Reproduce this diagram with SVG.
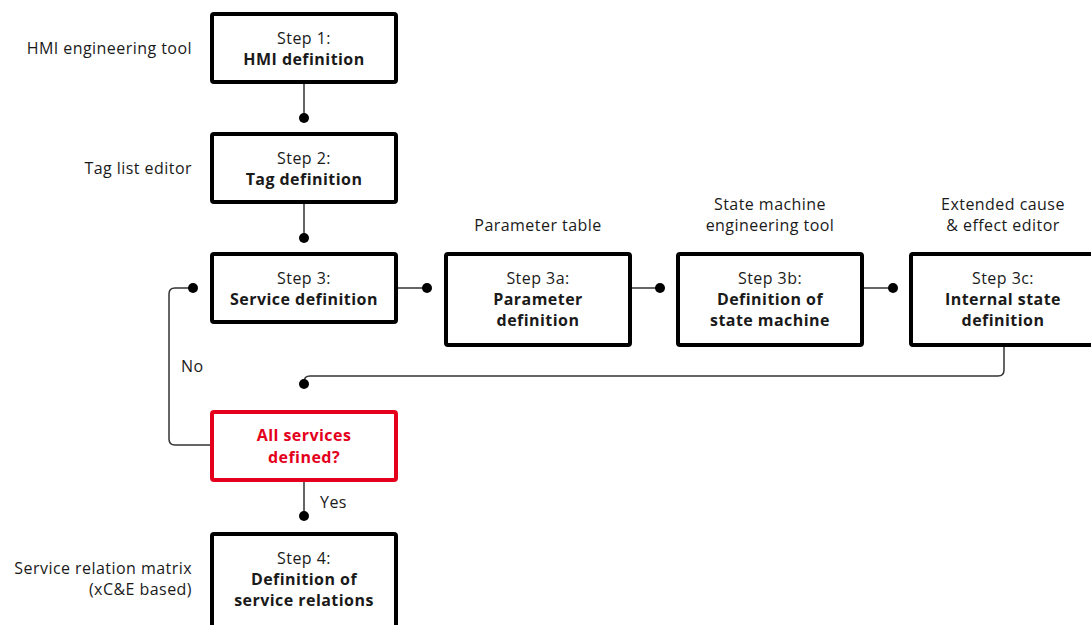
<svg xmlns="http://www.w3.org/2000/svg" width="1091" height="625" viewBox="0 0 1091 625">
<style>
.box{fill:#fff;stroke:#000;stroke-width:4}
.dec{fill:#fff;stroke:#e4001c;stroke-width:4}
.t{font-family:"Open Sans","Noto Sans",sans-serif;font-size:16px;letter-spacing:0.45px;fill:#1a1a1a}
.b{font-weight:bold}
.m{text-anchor:middle}
.e{text-anchor:end}
.r{fill:#e4001c}
.ln{fill:none;stroke:#333;stroke-width:1.5}
.dot{fill:#000}
</style>
<rect width="1091" height="625" fill="#fff"/>
<g id="connectors">
<path class="ln" d="M304 84V118"/><circle class="dot" cx="304" cy="118" r="5"/>
<path class="ln" d="M304 204V238"/><circle class="dot" cx="304" cy="238" r="5"/>
<path class="ln" d="M398 288H427"/><circle class="dot" cx="427" cy="288" r="5"/>
<path class="ln" d="M632 288H660"/><circle class="dot" cx="660" cy="288" r="5"/>
<path class="ln" d="M864 288H893"/><circle class="dot" cx="893" cy="288" r="5"/>
<path class="ln" d="M1004 346V370Q1004 376 998 376H310Q304 376 304 382V384"/><circle class="dot" cx="304" cy="384" r="5"/>
<path class="ln" d="M210 445H175Q169 445 169 439V294Q169 288 175 288H193"/><circle class="dot" cx="193" cy="288" r="5"/>
<path class="ln" d="M304 482V516"/><circle class="dot" cx="304" cy="516" r="5"/>
<text class="t" x="181" y="372">No</text>
<text class="t" x="320" y="508">Yes</text>
</g>
<g id="step1">
<rect class="box" x="212" y="14" width="184" height="68" rx="2"/>
<text class="t m" x="304" y="44">Step 1:</text>
<text class="t m b" x="304" y="65">HMI definition</text>
<text class="t e" x="192" y="54">HMI engineering tool</text>
</g>
<g id="step2">
<rect class="box" x="212" y="134" width="184" height="68" rx="2"/>
<text class="t m" x="304" y="164">Step 2:</text>
<text class="t m b" x="304" y="185">Tag definition</text>
<text class="t e" x="192" y="174">Tag list editor</text>
</g>
<g id="step3">
<rect class="box" x="212" y="254" width="184" height="68" rx="2"/>
<text class="t m" x="304" y="284">Step 3:</text>
<text class="t m b" x="304" y="305">Service definition</text>
</g>
<g id="step3a">
<rect class="box" x="446" y="254" width="184" height="91" rx="2"/>
<text class="t m" x="538" y="284">Step 3a:</text>
<text class="t m b" x="538" y="305">Parameter</text>
<text class="t m b" x="538" y="326">definition</text>
<text class="t m" x="538" y="231">Parameter table</text>
</g>
<g id="step3b">
<rect class="box" x="678" y="254" width="184" height="91" rx="2"/>
<text class="t m" x="770" y="284">Step 3b:</text>
<text class="t m b" x="770" y="305">Definition of</text>
<text class="t m b" x="770" y="326">state machine</text>
<text class="t m" x="770" y="210">State machine</text>
<text class="t m" x="770" y="231">engineering tool</text>
</g>
<g id="step3c">
<rect class="box" x="911" y="254" width="184" height="91" rx="2"/>
<text class="t m" x="1003" y="284">Step 3c:</text>
<text class="t m b" x="1003" y="305">Internal state</text>
<text class="t m b" x="1003" y="326">definition</text>
<text class="t m" x="1003" y="210">Extended cause</text>
<text class="t m" x="1003" y="231">&amp; effect editor</text>
</g>
<g id="decision">
<rect class="dec" x="212" y="412" width="184" height="68" rx="2"/>
<text class="t m b r" x="304" y="441">All services</text>
<text class="t m b r" x="304" y="463">defined?</text>
</g>
<g id="step4">
<rect class="box" x="212" y="534" width="184" height="100" rx="2"/>
<text class="t m" x="304" y="564">Step 4:</text>
<text class="t m b" x="304" y="585">Definition of</text>
<text class="t m b" x="304" y="606">service relations</text>
<text class="t e" x="192" y="574">Service relation matrix</text>
<text class="t e" x="192" y="595">(xC&amp;E based)</text>
</g>
</svg>
